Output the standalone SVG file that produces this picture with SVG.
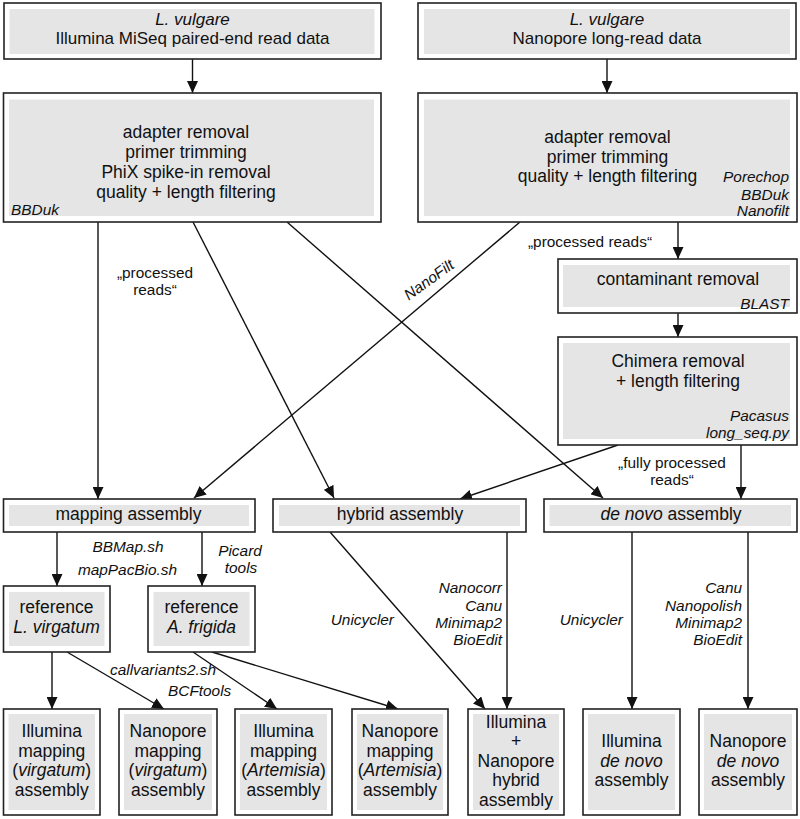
<svg xmlns="http://www.w3.org/2000/svg" width="800" height="819" viewBox="0 0 800 819">
<style>
.o{fill:#fff;stroke:#222;stroke-width:1.6}
.i{fill:#e5e5e5;stroke:none}
text{font-family:"Liberation Sans",Arial,sans-serif;fill:#111}
.m{font-size:17.5px;text-anchor:middle}
.t{font-size:17px;text-anchor:middle}
.l{font-size:15.4px;font-style:italic}
.q{font-size:15.4px;text-anchor:middle}
.e{text-anchor:end}
.c{text-anchor:middle}
.it{font-style:italic}
.ln{stroke:#111;stroke-width:1.4;fill:none}
.a{marker-end:url(#ah)}
</style>
<defs>
<marker id="ah" markerUnits="userSpaceOnUse" markerWidth="12" markerHeight="11" viewBox="0 0 12 11" refX="12" refY="5.5" orient="auto">
<path d="M0,0 L12,5.5 L0,11 z" fill="#111"/>
</marker>
</defs>

<g id="connectors">
<line class="ln a" x1="192.5" y1="59" x2="192.5" y2="93"/>
<line class="ln a" x1="607" y1="59" x2="607" y2="93"/>
<line class="ln a" x1="98" y1="222" x2="98" y2="499"/>
<line class="ln a" x1="193" y1="222" x2="334" y2="498"/>
<line class="ln a" x1="287" y1="222" x2="603" y2="498"/>
<line class="ln a" x1="520" y1="222" x2="194" y2="498"/>
<line class="ln a" x1="678" y1="222" x2="678" y2="259"/>
<line class="ln a" x1="678" y1="313" x2="678" y2="337"/>
<line class="ln a" x1="618" y1="445" x2="460" y2="499"/>
<line class="ln a" x1="741" y1="445" x2="741" y2="499"/>
<line class="ln a" x1="57" y1="532" x2="57" y2="586"/>
<line class="ln a" x1="202" y1="532" x2="202" y2="586"/>
<line class="ln a" x1="52" y1="652" x2="52" y2="709"/>
<line class="ln a" x1="67" y1="652" x2="164" y2="709"/>
<line class="ln a" x1="193" y1="652" x2="277" y2="709"/>
<line class="ln a" x1="212" y1="652" x2="398" y2="709"/>
<line class="ln a" x1="330" y1="532" x2="485" y2="709"/>
<line class="ln a" x1="507" y1="532" x2="507" y2="709"/>
<line class="ln a" x1="632" y1="532" x2="632" y2="709"/>
<line class="ln a" x1="748" y1="532" x2="748" y2="709"/>
<text class="q" x="155" y="278">„processed</text>
<text class="q" x="155" y="295">reads“</text>
<text class="l c" transform="translate(432,284) rotate(-36)">NanoFilt</text>
<text class="q" x="590" y="247">„processed reads“</text>
<text class="q" x="672" y="467.5">„fully processed</text>
<text class="q" x="672" y="484.5">reads“</text>
<text class="l c" x="128" y="552">BBMap.sh</text>
<text class="l c" x="127.5" y="575">mapPacBio.sh</text>
<text class="l c" x="240" y="556">Picard</text>
<text class="l c" x="241" y="573">tools</text>
<text class="l" x="110" y="675">callvariants2.sh</text>
<text class="l" x="168" y="696">BCFtools</text>
<text class="l e" x="394" y="625">Unicycler</text>
<text class="l e" x="502" y="593">Nanocorr</text>
<text class="l e" x="502" y="611">Canu</text>
<text class="l e" x="502" y="628">Minimap2</text>
<text class="l e" x="502" y="645">BioEdit</text>
<text class="l e" x="623" y="625">Unicycler</text>
<text class="l e" x="742" y="593">Canu</text>
<text class="l e" x="742" y="611">Nanopolish</text>
<text class="l e" x="742" y="628">Minimap2</text>
<text class="l e" x="742" y="645">BioEdit</text>
</g>

<g id="illumina-data">
<rect class="o" x="4" y="3" width="377" height="56"/>
<rect class="i" x="9.5" y="9" width="365" height="45"/>
<text class="t it" x="192.5" y="24.5">L. vulgare</text>
<text class="t" x="192.5" y="43.5">Illumina MiSeq paired-end read data</text>
</g>

<g id="nanopore-data">
<rect class="o" x="418" y="3" width="378" height="56"/>
<rect class="i" x="424" y="9" width="366" height="45"/>
<text class="t it" x="607" y="24.5">L. vulgare</text>
<text class="t" x="607" y="43.5">Nanopore long-read data</text>
</g>

<g id="illumina-processing">
<rect class="o" x="3.5" y="93" width="377.5" height="129"/>
<rect class="i" x="9" y="99.5" width="365" height="116.5"/>
<text class="m" x="186" y="138">adapter removal</text>
<text class="m" x="186" y="158">primer trimming</text>
<text class="m" x="186" y="178">PhiX spike-in removal</text>
<text class="m" x="186" y="198">quality + length filtering</text>
<text class="l" x="11" y="215">BBDuk</text>
</g>

<g id="nanopore-processing">
<rect class="o" x="418" y="93" width="379" height="129"/>
<rect class="i" x="424" y="99.5" width="366" height="116.5"/>
<text class="m" x="607.5" y="143">adapter removal</text>
<text class="m" x="607.5" y="162.5">primer trimming</text>
<text class="m" x="607.5" y="182">quality + length filtering</text>
<text class="l e" x="789" y="182">Porechop</text>
<text class="l e" x="789" y="199.5">BBDuk</text>
<text class="l e" x="789" y="216">Nanofilt</text>
</g>

<g id="contaminant-removal">
<rect class="o" x="558" y="259" width="239" height="54"/>
<rect class="i" x="563" y="265" width="227" height="42"/>
<text class="m" x="678" y="285">contaminant removal</text>
<text class="l e" x="789" y="309">BLAST</text>
</g>

<g id="chimera-removal">
<rect class="o" x="558" y="337" width="239" height="108"/>
<rect class="i" x="563" y="343" width="227" height="96"/>
<text class="m" x="678" y="367">Chimera removal</text>
<text class="m" x="678" y="387">+ length filtering</text>
<text class="l e" x="789" y="420.5">Pacasus</text>
<text class="l e" x="789" y="438">long_seq.py</text>
</g>

<g id="mapping-assembly">
<rect class="o" x="3.5" y="499" width="251.5" height="33"/>
<rect class="i" x="9" y="505" width="240" height="21"/>
<text class="m" x="128.5" y="520">mapping assembly</text>
</g>

<g id="hybrid-assembly">
<rect class="o" x="273" y="499" width="253" height="33"/>
<rect class="i" x="279" y="505" width="241" height="21"/>
<text class="m" x="400" y="520">hybrid assembly</text>
</g>

<g id="denovo-assembly">
<rect class="o" x="544" y="499" width="253" height="33"/>
<rect class="i" x="549.5" y="505" width="241.5" height="21"/>
<text class="m" x="671" y="520"><tspan class="it">de novo</tspan> assembly</text>
</g>

<g id="ref-virgatum">
<rect class="o" x="3.5" y="586" width="106.5" height="66"/>
<rect class="i" x="9" y="592" width="95.5" height="54"/>
<text class="m" x="56.5" y="613">reference</text>
<text class="m it" x="56.5" y="633">L. virgatum</text>
</g>

<g id="ref-frigida">
<rect class="o" x="148" y="586" width="107" height="66"/>
<rect class="i" x="153.5" y="592" width="96" height="54"/>
<text class="m" x="201.5" y="613">reference</text>
<text class="m it" x="201.5" y="633">A. frigida</text>
</g>

<g id="illumina-mapping-virgatum">
<rect class="o" x="3.5" y="709" width="96.5" height="106"/>
<rect class="i" x="8.5" y="714" width="86.5" height="96"/>
<text class="m" x="51.75" y="737">Illumina</text>
<text class="m" x="51.75" y="756.5">mapping</text>
<text class="m" x="51.75" y="776">(<tspan class="it">virgatum</tspan>)</text>
<text class="m" x="51.75" y="795.5">assembly</text>
</g>

<g id="nanopore-mapping-virgatum">
<rect class="o" x="119" y="709" width="98" height="106"/>
<rect class="i" x="124" y="714" width="88" height="96"/>
<text class="m" x="168" y="737">Nanopore</text>
<text class="m" x="168" y="756.5">mapping</text>
<text class="m" x="168" y="776">(<tspan class="it">virgatum</tspan>)</text>
<text class="m" x="168" y="795.5">assembly</text>
</g>

<g id="illumina-mapping-artemisia">
<rect class="o" x="235" y="709" width="97" height="106"/>
<rect class="i" x="240" y="714" width="87" height="96"/>
<text class="m" x="283.5" y="737">Illumina</text>
<text class="m" x="283.5" y="756.5">mapping</text>
<text class="m" x="283.5" y="776">(<tspan class="it">Artemisia</tspan>)</text>
<text class="m" x="283.5" y="795.5">assembly</text>
</g>

<g id="nanopore-mapping-artemisia">
<rect class="o" x="352" y="709" width="96" height="106"/>
<rect class="i" x="357" y="714" width="86" height="96"/>
<text class="m" x="400" y="737">Nanopore</text>
<text class="m" x="400" y="756.5">mapping</text>
<text class="m" x="400" y="776">(<tspan class="it">Artemisia</tspan>)</text>
<text class="m" x="400" y="795.5">assembly</text>
</g>

<g id="hybrid-result">
<rect class="o" x="468" y="709" width="96" height="106"/>
<rect class="i" x="473" y="714" width="86" height="96"/>
<text class="m" x="516" y="727.5">Illumina</text>
<text class="m" x="516" y="747">+</text>
<text class="m" x="516" y="766.5">Nanopore</text>
<text class="m" x="516" y="786">hybrid</text>
<text class="m" x="516" y="805.5">assembly</text>
</g>

<g id="illumina-denovo">
<rect class="o" x="583" y="709" width="97" height="106"/>
<rect class="i" x="588" y="714" width="87" height="96"/>
<text class="m" x="631.5" y="747">Illumina</text>
<text class="m it" x="631.5" y="766.5">de novo</text>
<text class="m" x="631.5" y="786">assembly</text>
</g>

<g id="nanopore-denovo">
<rect class="o" x="699" y="709" width="98" height="106"/>
<rect class="i" x="704" y="714" width="88" height="96"/>
<text class="m" x="748" y="747">Nanopore</text>
<text class="m it" x="748" y="766.5">de novo</text>
<text class="m" x="748" y="786">assembly</text>
</g>
</svg>
